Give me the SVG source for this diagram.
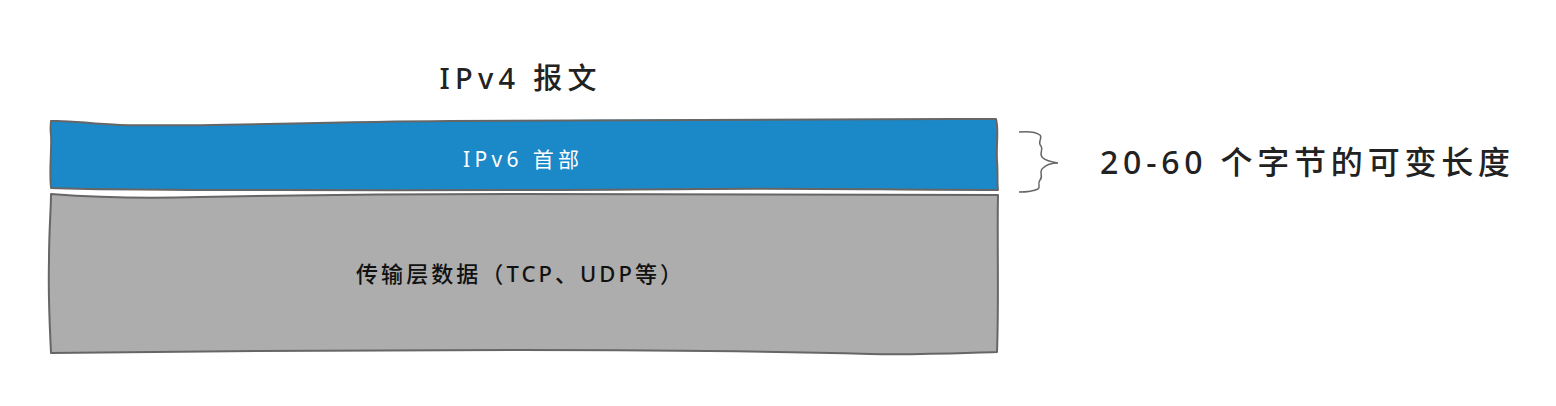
<svg xmlns="http://www.w3.org/2000/svg" width="1556" height="406" viewBox="0 0 1556 406">
<style>
.box{stroke:#666;stroke-width:2;stroke-linejoin:round}
.t{font-family:"Noto Sans","Noto Sans CJK SC",sans-serif;text-anchor:middle}
</style>
<rect width="1556" height="406" fill="#fff"/>
<g id="title"><text class="t" x="518" y="89" font-size="29" font-weight="500" fill="#222" textLength="157" lengthAdjust="spacing">IPv4 报文</text></g>
<g id="data">
<path class="box" fill="#adadad" d="M51,194 C90,197 140,199 200,197 C300,195 400,194 520,194 C640,193 800,195 998,195 C997,240 999,300 997,352 C960,353 920,355 870,354 C760,351 650,350 520,350 C380,350 200,351 51,353 C50,330 48,300 49,260 C49,230 51,210 51,194 Z"/>
<text class="t" x="519" y="282" font-size="22" font-weight="500" fill="#111" textLength="326" lengthAdjust="spacing">传输层数据（TCP、UDP等）</text>
</g>
<g id="header">
<path class="box" fill="#1b88c8" d="M51,121 C70,120 90,124 120,125 C200,127 300,122 450,121 C600,119 800,119 996,119 C999,130 996,145 997,160 C998,175 997,185 998,190 C900,190 800,188 700,189 C500,191 300,190 200,190 C150,189 100,190 51,188 C49,170 52,150 51,135 C50,128 51,124 51,121 Z"/>
<text class="t" x="521" y="167" font-size="21" fill="#fff" textLength="116" lengthAdjust="spacing">IPv6 首部</text>
</g>
<g id="connectors">
<path d="M1019,132 C1030,131 1036,132 1040,135 C1043,138 1037,142 1041,146 C1044,150 1038,154 1043,158 C1046,161 1052,162 1058,163 C1052,163 1046,165 1043,168 C1038,172 1044,176 1040,180 C1037,184 1041,187 1038,189 C1034,191 1026,192 1019,192" fill="none" stroke="#666" stroke-width="1.5"/>
</g>
<g id="label"><text x="1100" y="174" font-family="Noto Sans,Noto Sans CJK SC,sans-serif" font-size="32" font-weight="500" fill="#222" textLength="410" lengthAdjust="spacing">20-60 个字节的可变长度</text></g>
</svg>
